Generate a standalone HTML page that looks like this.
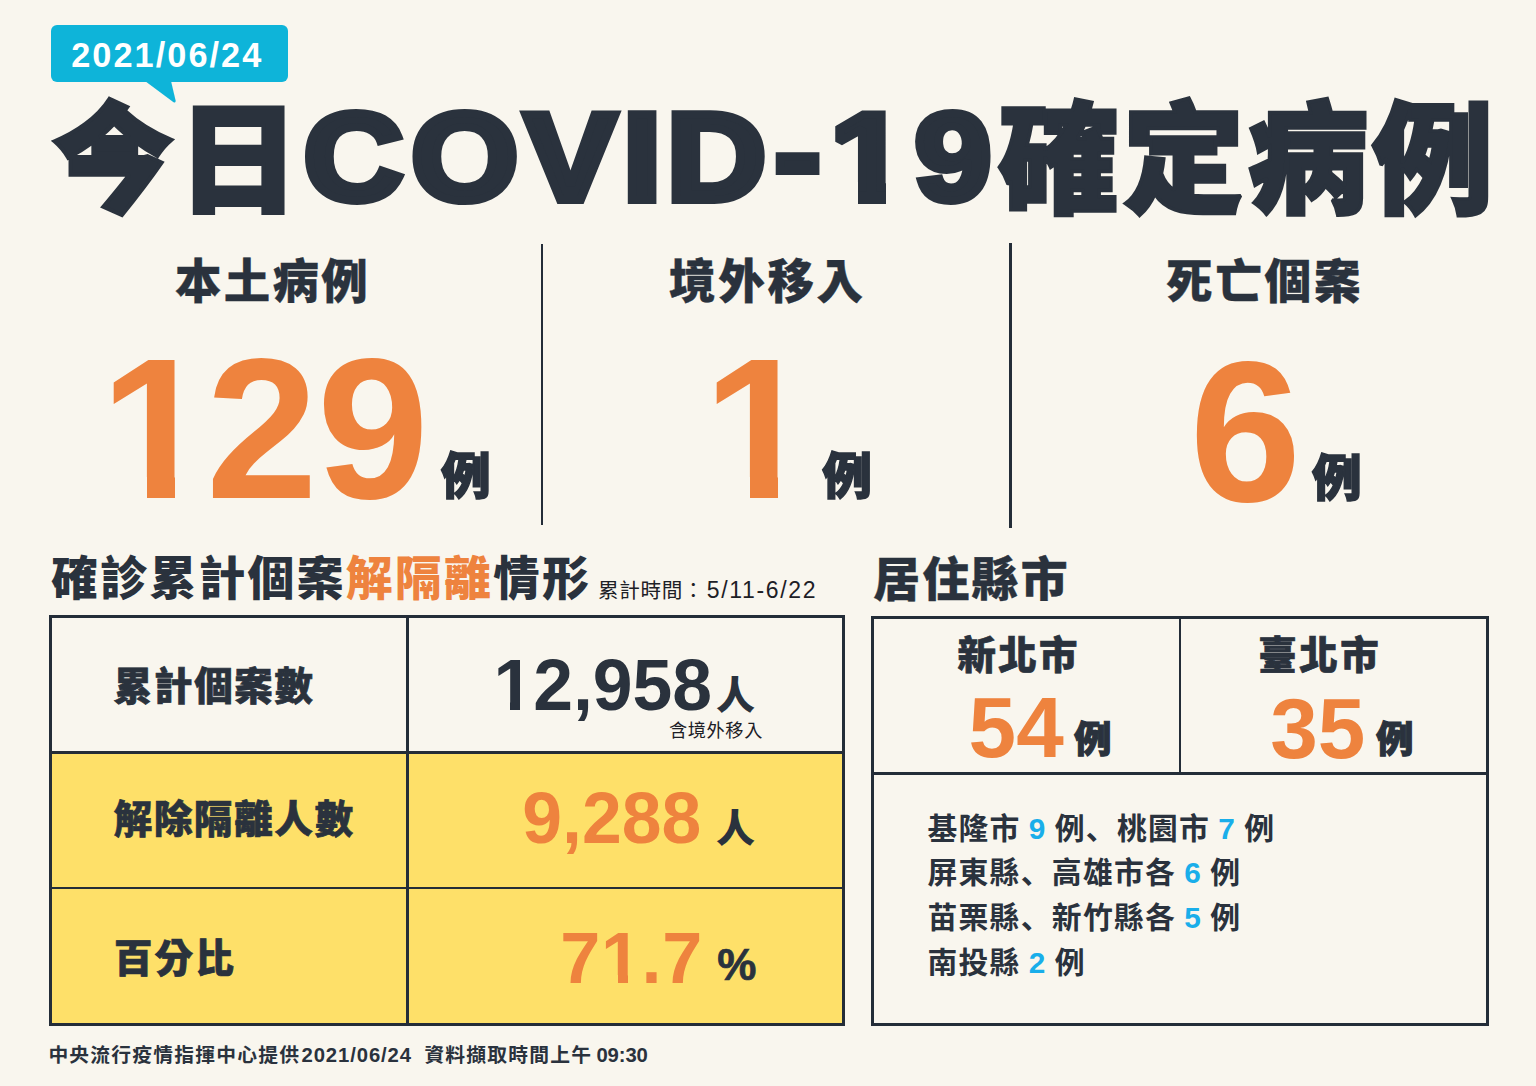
<!DOCTYPE html>
<html lang="zh-Hant">
<head>
<meta charset="utf-8">
<title>今日COVID-19確定病例 2021/06/24</title>
<style>
html,body{margin:0;padding:0}
body{width:1536px;height:1086px;position:relative;overflow:hidden;background:#f9f6ee;color:#2a323d;
 font-family:"Noto Sans CJK TC","Liberation Sans",sans-serif}
.a{position:absolute;white-space:nowrap;line-height:1;margin:0}
.blk{font-weight:900}
.num{font-family:"Liberation Sans","Noto Sans CJK TC",sans-serif;font-weight:700}
.ls{font-weight:700}
.pc{font-family:"Noto Sans CJK SC","Noto Sans CJK TC",sans-serif}
.or{color:#ee833e}
.bl{color:#19aeea;font-family:"Liberation Sans","Noto Sans CJK TC",sans-serif;font-weight:700}
.box{position:absolute;box-sizing:border-box}
.ln{position:absolute;background:#242d38}
svg{position:absolute;left:0;top:0;overflow:visible}
</style>
</head>
<body>

<!-- date badge -->
<div class="box" id="badge" style="left:51px;top:25px;width:237px;height:57px;border-radius:6px;background:#0eb4d9"></div>
<svg width="1536" height="1086" viewBox="0 0 1536 1086" style="pointer-events:none">
  <path id="tail" d="M145 81 L171 81 L175.6 100.5 Q176 103.5 173.2 102 Z" fill="#0eb4d9"/>
</svg>
<div class="a num" id="date" style="left:71.2px;top:38.4px;font-size:34.3px;letter-spacing:2.05px;color:#fff">2021/06/24</div>

<!-- title -->
<svg id="titlesvg" width="1536" height="1086" viewBox="0 0 1536 1086">
  <g fill="#2a323d" stroke="#2a323d" stroke-linejoin="miter" stroke-miterlimit="2">
    <g transform="scale(1.02 1)"><text id="t1" font-family="'Noto Sans CJK TC','Liberation Sans',sans-serif" font-weight="900" font-size="119" stroke-width="4" x="51.2 174.2" y="203.3">今日</text></g>
    <g transform="scale(1.1 1)">
      <text id="t2" font-family="'Liberation Sans','Noto Sans CJK TC',sans-serif" font-weight="700" font-size="125" stroke-width="8" x="276.2 373.8 476.8 566.4 606.1 704.3 754.7 831.6" y="200.4 200.4 200.4 200.4 200.4 195.6 200.4 200.4">COVID-19</text>
    </g>
    <text id="t3" font-family="'Noto Sans CJK TC','Liberation Sans',sans-serif" font-weight="900" font-size="121" stroke-width="3.5" x="998.5 1123 1247.5 1372" y="203">確定病例</text>
  </g>
</svg>
<!-- hide the foot serif of the Liberation "1" so it reads like the original flag-only 1 -->
<div class="box" id="p1a" style="left:831px;top:181.6px;width:26.9px;height:26px;background:#f9f6ee"></div>
<div class="box" id="p1b" style="left:886.1px;top:181.6px;width:24px;height:26px;background:#f9f6ee"></div>

<!-- three columns -->
<div class="a blk" id="lab1" style="left:175px;top:255px;font-size:46.4px;letter-spacing:2.4px;-webkit-text-stroke:.4px #2a323d">本土病例</div>
<div class="a blk" id="lab2" style="left:669px;top:255px;font-size:46.6px;letter-spacing:2.6px;-webkit-text-stroke:.4px #2a323d">境外移入</div>
<div class="a blk" id="lab3" style="left:1166px;top:254.6px;font-size:46.6px;letter-spacing:2.7px;-webkit-text-stroke:.4px #2a323d">死亡個案</div>

<div class="ln" style="left:540.5px;top:244px;width:2.5px;height:281px"></div>
<div class="ln" style="left:1009px;top:243px;width:2.5px;height:285px"></div>

<svg width="1536" height="1086" viewBox="0 0 1536 1086"><text id="n1" font-family="'Liberation Sans','Noto Sans CJK TC',sans-serif" font-weight="700" font-size="201" fill="#ee833e" x="100.1 205.9 317.1" y="498">129</text></svg>
<div class="a num or" id="n2" style="left:703px;top:327.9px;font-size:201px">1</div>
<div class="a num or" id="n3" style="left:1189.5px;top:331.2px;font-size:201px">6</div>
<div class="a blk" id="li1" style="left:441px;top:447.6px;font-size:49.6px;-webkit-text-stroke:1.5px #2a323d">例</div>
<div class="a blk" id="li2" style="left:822.2px;top:448px;font-size:49.6px;-webkit-text-stroke:1.5px #2a323d">例</div>
<div class="a blk" id="li3" style="left:1312px;top:450.2px;font-size:49.6px;-webkit-text-stroke:1.5px #2a323d">例</div>

<!-- cover the foot serif of Liberation "1" (original digit has a flag only) -->
<div class="box" style="left:108px;top:476.5px;width:38.5px;height:24px;background:#f9f6ee"></div>
<div class="box" style="left:174.5px;top:476.5px;width:34px;height:24px;background:#f9f6ee"></div>
<div class="box" style="left:712px;top:476.5px;width:37.5px;height:24px;background:#f9f6ee"></div>
<div class="box" style="left:777.5px;top:476.5px;width:34px;height:24px;background:#f9f6ee"></div>

<!-- left section heading -->
<div class="a blk" id="h1" style="left:51.2px;top:552.2px;font-size:46.8px;letter-spacing:2.3px">確診累計個案<span class="or">解隔離</span>情形</div>
<div class="a" id="h1s" style="left:598px;top:579.3px;font-size:20.6px;font-weight:400;color:#1d2026;letter-spacing:.65px">累計時間：<span style="font-family:'Liberation Sans','Noto Sans CJK TC',sans-serif;font-size:23px;letter-spacing:1.65px;margin-left:2.6px">5/11-6/22</span></div>
<div class="a blk" id="h2" style="left:873.3px;top:553.3px;font-size:46.8px;letter-spacing:2.35px;-webkit-text-stroke:.4px #2a323d">居住縣市</div>

<!-- left table -->
<div class="box" id="tbl1" style="left:49px;top:615.1px;width:795.9px;height:410.5px;border:3.5px solid #242d38;overflow:hidden">
  <div class="box" style="left:0;top:135.4px;width:800px;height:290px;background:#fee069"></div>
</div>
<div class="ln" style="left:406px;top:616px;width:2.6px;height:408px"></div>
<div class="ln" style="left:51px;top:751.3px;width:792px;height:2.7px"></div>
<div class="ln" style="left:51px;top:886.7px;width:792px;height:2.7px"></div>

<div class="a blk" id="r1" style="left:113.8px;top:664.3px;font-size:38.4px;letter-spacing:1.8px;-webkit-text-stroke:.7px #2a323d">累計個案數</div>
<div class="a blk" id="r2" style="left:113.7px;top:797.3px;font-size:38.4px;letter-spacing:1.8px;-webkit-text-stroke:.7px #2a323d">解除隔離人數</div>
<div class="a blk" id="r3" style="left:114px;top:935.6px;font-size:38.4px;letter-spacing:2.3px;-webkit-text-stroke:.7px #2a323d">百分比</div>

<div class="a num" id="v1" style="left:493.4px;top:649.6px;font-size:71.5px">12,958</div>
<div class="a blk" id="v1u" style="left:716px;top:673px;font-size:39px">人</div>
<div class="a" id="v1s" style="left:669px;top:720.3px;font-size:18.2px;font-weight:400;color:#1d2026;letter-spacing:.6px">含境外移入</div>
<div class="a num or" id="v2" style="left:522.3px;top:782.8px;font-size:71.5px">9,288</div>
<div class="a blk" id="v2u" style="left:716px;top:806.2px;font-size:39px">人</div>
<div class="a num or" id="v3" style="left:560.3px;top:921.9px;font-size:72px;letter-spacing:.6px">71.7</div>
<div class="a num" id="v3u" style="left:717.3px;top:942.8px;font-size:44px;-webkit-text-stroke:.7px #2a323d">%</div>

<div class="box" style="left:496px;top:701.6px;width:14px;height:10px;background:#f9f6ee"></div>
<div class="box" style="left:520px;top:701.6px;width:13px;height:10px;background:#f9f6ee"></div>
<div class="box" style="left:603px;top:974.6px;width:15px;height:10px;background:#fee069"></div>
<div class="box" style="left:628px;top:974.6px;width:13px;height:10px;background:#fee069"></div>

<!-- right table -->
<div class="box" id="tbl2" style="left:870.8px;top:616px;width:618px;height:409.6px;border:3.5px solid #242d38"></div>
<div class="ln" style="left:1178.8px;top:618px;width:2.5px;height:156px"></div>
<div class="ln" style="left:873px;top:771.8px;width:614px;height:2.8px"></div>

<div class="a blk" id="c1" style="left:957.4px;top:632.5px;font-size:38.4px;letter-spacing:2.4px;-webkit-text-stroke:.7px #2a323d">新北市</div>
<div class="a num or" id="c1n" style="left:968.6px;top:685.3px;font-size:85.5px">54</div>
<div class="a blk" id="c1u" style="left:1074.1px;top:719.1px;font-size:37.4px;-webkit-text-stroke:1.1px #2a323d">例</div>
<div class="a blk" id="c2" style="left:1258.3px;top:633px;font-size:38.4px;letter-spacing:2.6px;-webkit-text-stroke:.7px #2a323d">臺北市</div>
<div class="a num or" id="c2n" style="left:1270.3px;top:685.6px;font-size:85.5px">35</div>
<div class="a blk" id="c2u" style="left:1376.1px;top:718.6px;font-size:37.4px;-webkit-text-stroke:1.1px #2a323d">例</div>

<div class="a ls" id="l1" style="left:927.4px;top:811.6px;font-size:29.8px;letter-spacing:1.3px">基隆市 <span class="bl">9</span> 例<span class="pc" lang="zh-Hans">、</span>桃園市 <span class="bl">7</span> 例</div>
<div class="a ls" id="l2" style="left:927.4px;top:856.4px;font-size:29.8px;letter-spacing:1.3px">屏東縣<span class="pc" lang="zh-Hans">、</span>高雄市各 <span class="bl">6</span> 例</div>
<div class="a ls" id="l3" style="left:927.4px;top:901.2px;font-size:29.8px;letter-spacing:1.3px">苗栗縣<span class="pc" lang="zh-Hans">、</span>新竹縣各 <span class="bl">5</span> 例</div>
<div class="a ls" id="l4" style="left:927.4px;top:946.1px;font-size:29.8px;letter-spacing:1.3px">南投縣 <span class="bl">2</span> 例</div>

<!-- footer -->
<div class="a" id="ft" style="left:48.4px;top:1043.5px;font-size:19.8px;font-weight:700;letter-spacing:1.2px"><span id="fa">中央流行疫情指揮中心提供</span><span id="fb" class="num" style="font-size:20.3px;letter-spacing:.9px;margin-left:1.3px">2021/06/24</span><span id="fc" style="margin-left:12.4px">資料擷取時間上午</span><span id="fd" class="num" style="font-size:20.3px;letter-spacing:-.1px;margin-left:4.2px">09:30</span></div>

</body>
</html>
